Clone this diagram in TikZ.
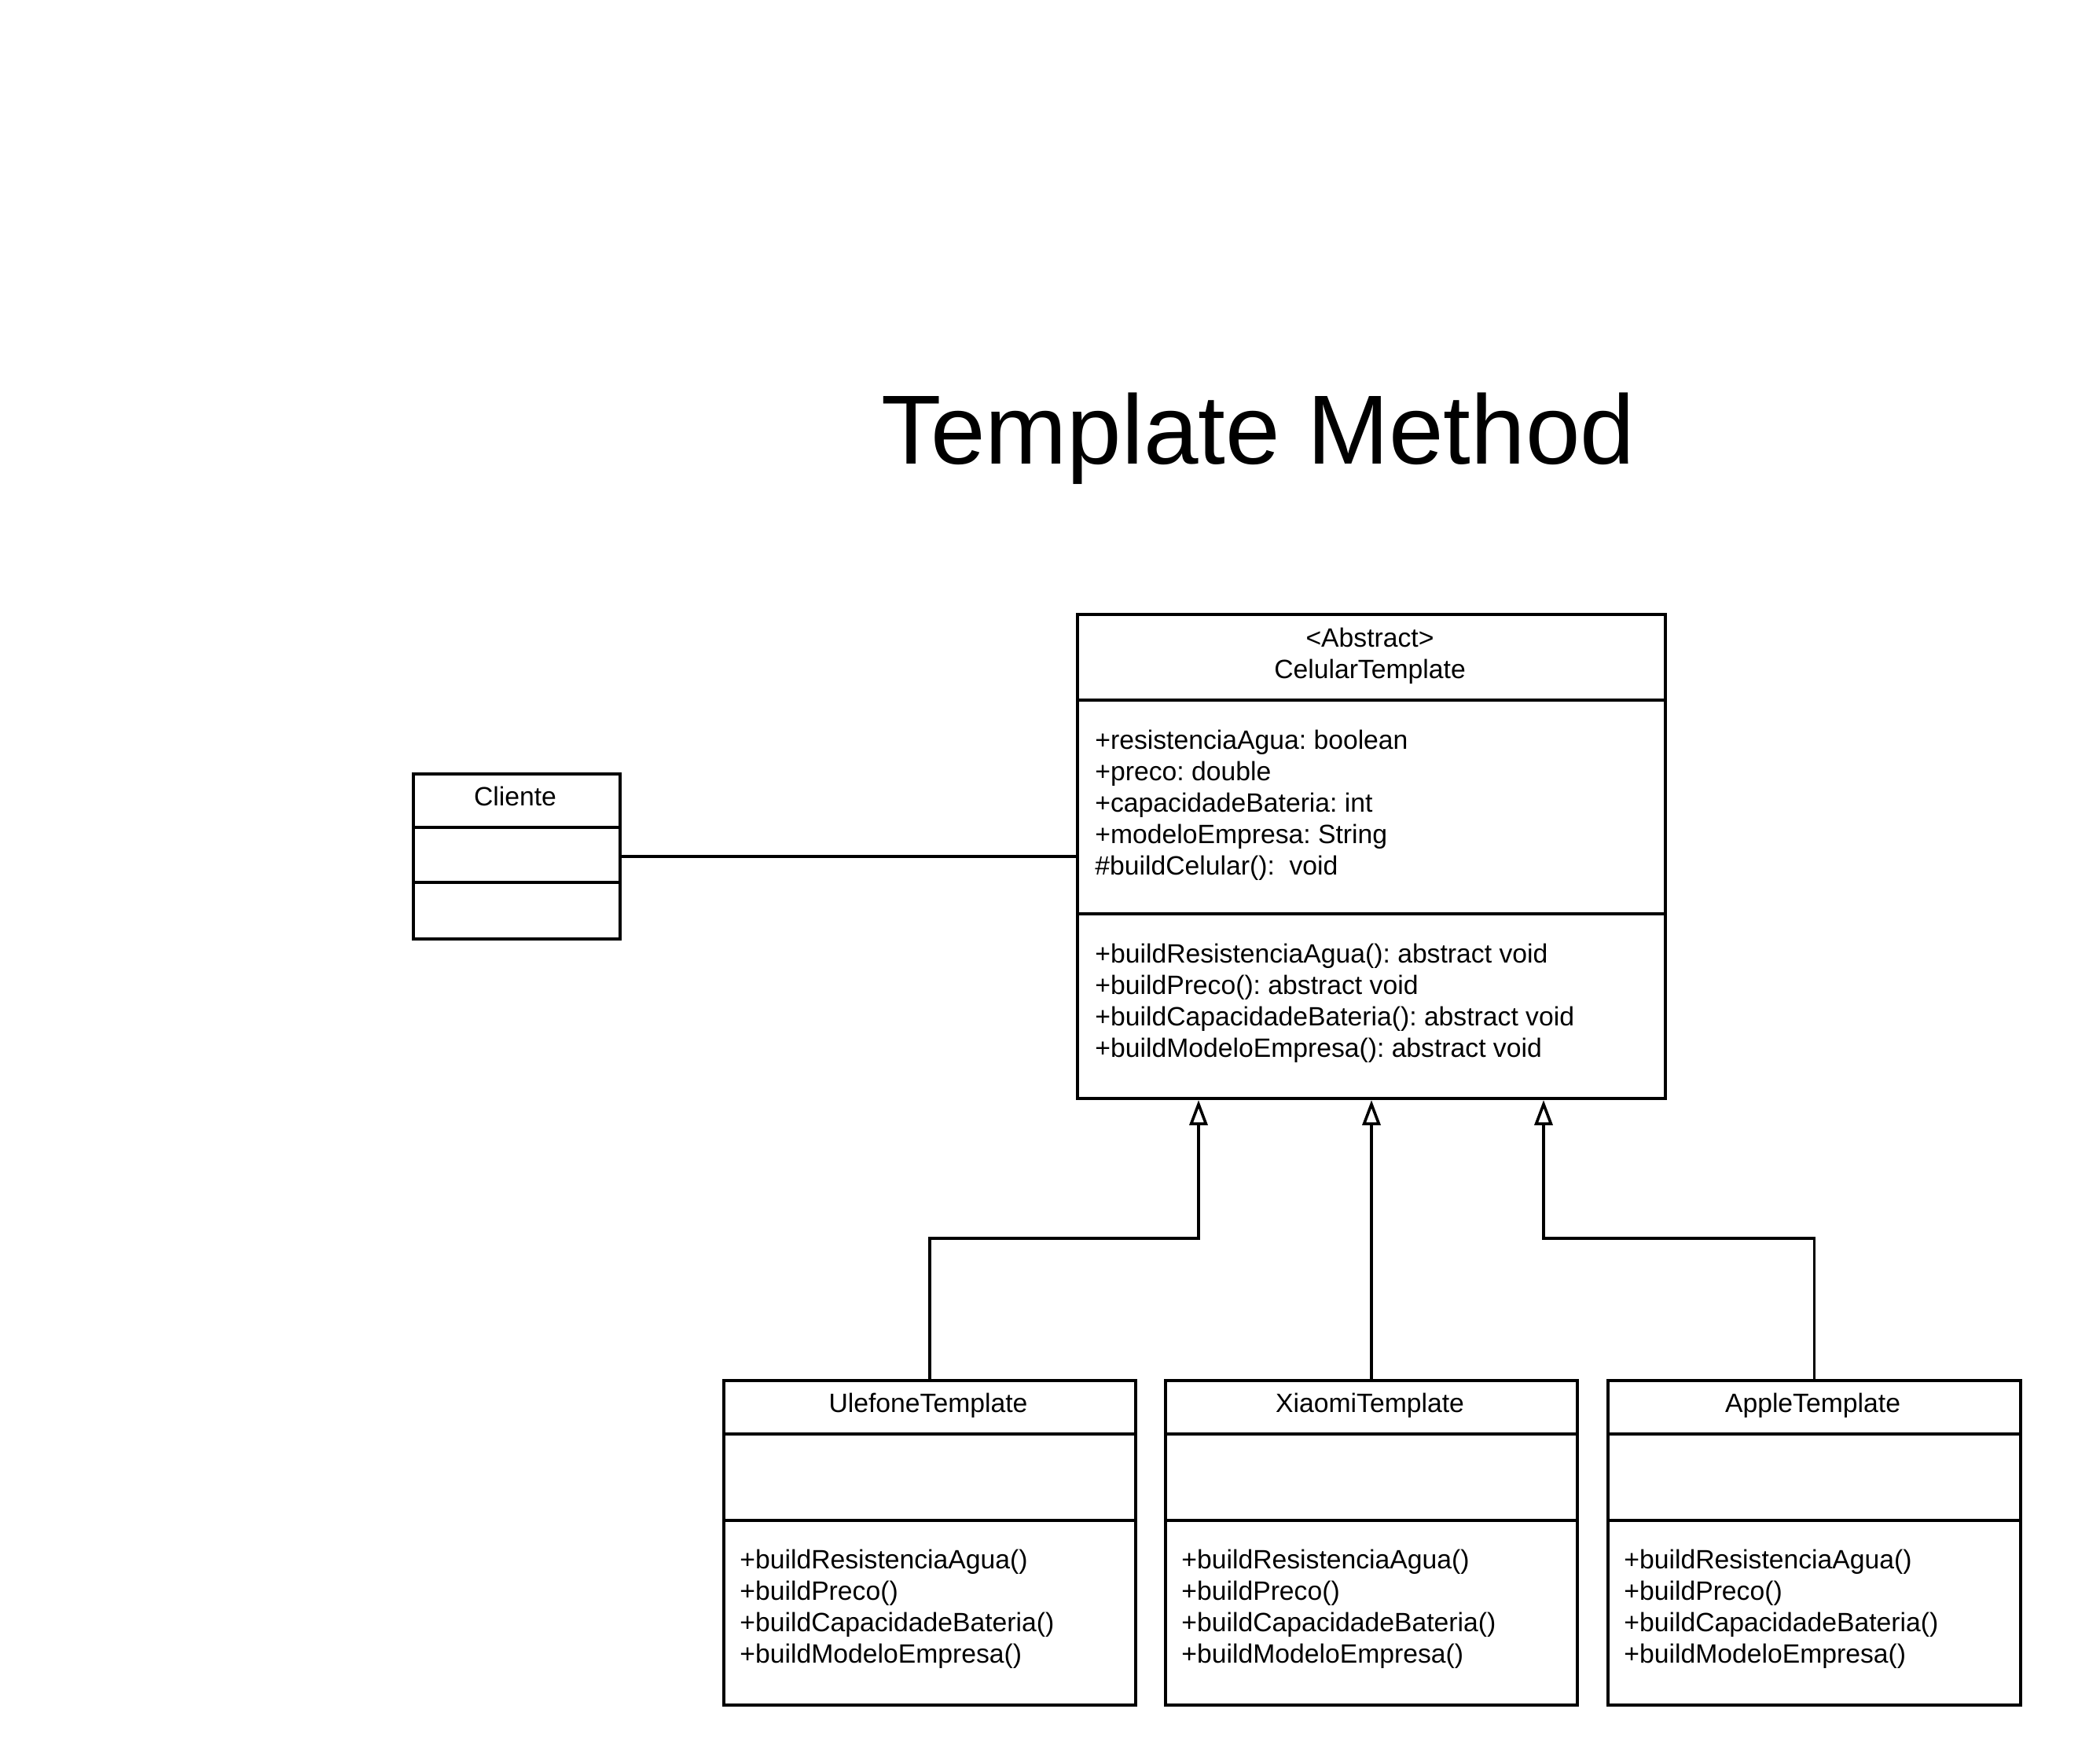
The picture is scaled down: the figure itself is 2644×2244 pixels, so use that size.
\documentclass[tikz,border=0pt]{standalone}
\usepackage{fontspec}
\setmainfont{Liberation Sans}
\usetikzlibrary{arrows.meta}
\frenchspacing
\begin{document}
\begin{tikzpicture}[x=0.5pt,y=-0.5pt,
  umlbox/.style={draw=black,line width=2pt,fill=white,inner sep=0pt,anchor=north west},
  divline/.style={line width=2pt},
  umltext/.style={inner sep=0pt,font=\fontsize{16.85pt}{20.2pt}\selectfont},
  lefttext/.style={umltext,anchor=base west},
  centertext/.style={umltext,anchor=base},
  titletext/.style={inner sep=0pt,anchor=base,font=\fontsize{62.5pt}{75pt}\selectfont},
  assoc/.style={line width=1.8pt},
  inherit/.style={line width=1.8pt,-{Triangle[open,length=16pt,width=11.5pt,fill=white]}}
]
\useasboundingbox (0,0) rectangle (2644,2244);

% title
\node[titletext] (title) at (1601,590) {Template Method};

% CelularTemplate
\node[umlbox,minimum width=374pt,minimum height=308pt] (cel) at (1369,780) {};
\draw[divline] (cel.west |- 0,891) -- (cel.east |- 0,891);
\draw[divline] (cel.west |- 0,1163) -- (cel.east |- 0,1163);
\node[centertext] (celst) at (1743,823) {<Abstract>};
\node[centertext] (celname) at (1743,863) {CelularTemplate};
\node[lefttext] (ca1) at (1393,953) {+resistenciaAgua: boolean};
\node[lefttext] (ca2) at (1393,993) {+preco: double};
\node[lefttext] (ca3) at (1393,1033) {+capacidadeBateria: int};
\node[lefttext] (ca4) at (1393,1073) {+modeloEmpresa: String};
\node[lefttext] (ca5) at (1393,1113) {\#buildCelular():\ \ void};
\node[lefttext] (cm1) at (1393,1225) {+buildResistenciaAgua(): abstract void};
\node[lefttext] (cm2) at (1393,1265) {+buildPreco(): abstract void};
\node[lefttext] (cm3) at (1393,1305) {+buildCapacidadeBateria(): abstract void};
\node[lefttext] (cm4) at (1393,1345) {+buildModeloEmpresa(): abstract void};

% Cliente
\node[umlbox,minimum width=131.5pt,minimum height=105pt] (cli) at (524,983) {};
\draw[divline] (cli.west |- 0,1053) -- (cli.east |- 0,1053);
\draw[divline] (cli.west |- 0,1123) -- (cli.east |- 0,1123);
\node[centertext] (cliname) at (655.5,1025) {Cliente};

% association
\draw[assoc] (cli.east) -- (cli.east -| cel.west);

% subclasses
\node[umlbox,minimum width=262pt,minimum height=206.5pt] (ule) at (919,1755) {};
\node[umlbox,minimum width=262pt,minimum height=206.5pt] (xia) at (1481,1755) {};
\node[umlbox,minimum width=262.5pt,minimum height=206.5pt] (app) at (2044,1755) {};
\foreach \b in {ule,xia,app}{
  \draw[divline] (\b.west |- 0,1825) -- (\b.east |- 0,1825);
  \draw[divline] (\b.west |- 0,1935) -- (\b.east |- 0,1935);
}
\node[centertext] (ulename) at (1181,1797) {UlefoneTemplate};
\node[centertext] (xianame) at (1743,1797) {XiaomiTemplate};
\node[centertext] (appname) at (2306.5,1797) {AppleTemplate};

\foreach \b/\x in {u/941,x/1503,a/2066}{
  \node[lefttext] (\b m1) at (\x,1996) {+buildResistenciaAgua()};
  \node[lefttext] (\b m2) at (\x,2036) {+buildPreco()};
  \node[lefttext] (\b m3) at (\x,2076) {+buildCapacidadeBateria()};
  \node[lefttext] (\b m4) at (\x,2116) {+buildModeloEmpresa()};
}

% inheritance
\coordinate (j1) at (1525,1576);
\coordinate (j3) at (1964,1576);
\draw[inherit] (ule.north) |- (j1) -- (j1 |- cel.south);
\draw[inherit] (xia.north) -- (cel.south);
\draw[inherit] (app.north) |- (j3) -- (j3 |- cel.south);
\end{tikzpicture}
\end{document}
